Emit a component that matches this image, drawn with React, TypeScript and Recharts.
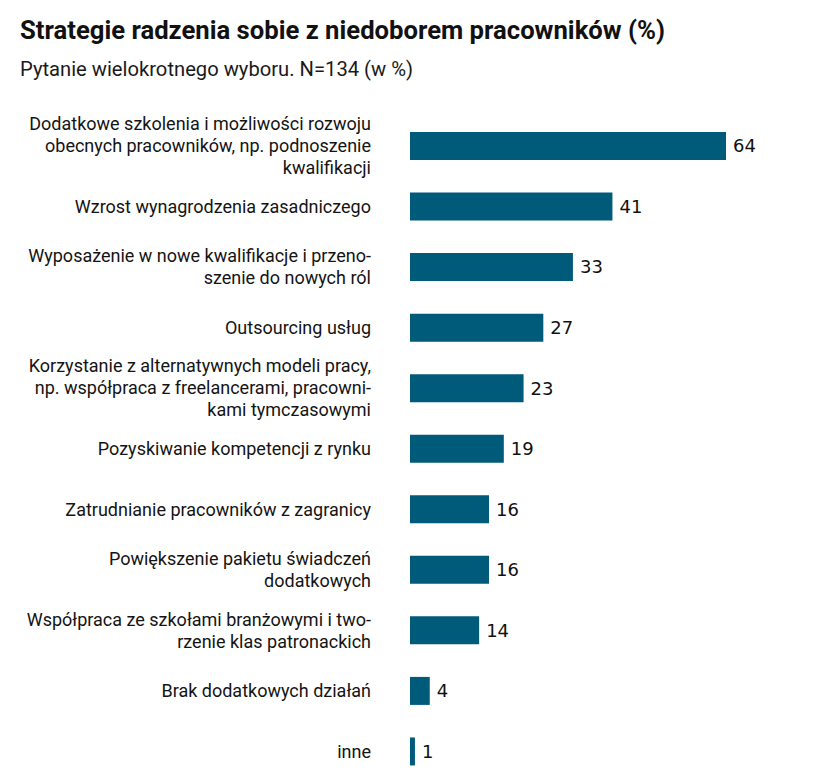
import React from "react";
import { Bar, BarChart, LabelList, XAxis, YAxis } from "recharts";

const categories = [
  "Dodatkowe szkolenia i możliwości rozwoju\nobecnych pracowników, np. podnoszenie\nkwalifikacji",
  "Wzrost wynagrodzenia zasadniczego",
  "Wyposażenie w nowe kwalifikacje i przeno-\nszenie do nowych ról",
  "Outsourcing usług",
  "Korzystanie z alternatywnych modeli pracy,\nnp. współpraca z freelancerami, pracowni-\nkami tymczasowymi",
  "Pozyskiwanie kompetencji z rynku",
  "Zatrudnianie pracowników z zagranicy",
  "Powiększenie pakietu świadczeń\ndodatkowych",
  "Współpraca ze szkołami branżowymi i two-\nrzenie klas patronackich",
  "Brak dodatkowych działań",
  "inne",
];

const values = [64, 41, 33, 27, 23, 19, 16, 16, 14, 4, 1];

const title = "Strategie radzenia sobie z niedoborem pracowników (%)";
const subtitle = "Pytanie wielokrotnego wyboru. N=134 (w %)";

const data = categories.map((name, i) => ({ name, value: values[i] }));

const BAR_COLOR = "#005a7a";
const LABEL_FONT = "Roboto, 'Noto Sans', sans-serif";

function CategoryTick(props: any) {
  const { x, y, payload } = props;
  const lines: string[] = String(payload.value).split("\n");
  const lh = 22;
  const start = -((lines.length - 1) / 2) * lh;
  return (
    <text
      x={x - 31}
      y={y}
      textAnchor="end"
      fill="#141414"
      fontSize={18}
      fontFamily={LABEL_FONT}
    >
      {lines.map((line, i) => (
        <tspan key={i} x={x - 31} dy={i === 0 ? start + 6 : lh}>
          {line}
        </tspan>
      ))}
    </text>
  );
}

export default function App() {
  return (
    <div
      style={{
        position: "absolute",
        top: 0,
        left: 0,
        width: 821,
        height: 774,
        overflow: "hidden",
        background: "#fff",
      }}
    >
      <svg
        width={821}
        height={100}
        style={{ position: "absolute", top: 0, left: 0 }}
      >
        <text
          x={20}
          y={39}
          fontFamily={LABEL_FONT}
          fontWeight={700}
          fontSize={25}
          fill="#111"
          textLength={645}
          lengthAdjust="spacingAndGlyphs"
        >
          {title}
        </text>
        <text
          x={20}
          y={76}
          fontFamily={LABEL_FONT}
          fontWeight={400}
          fontSize={19.5}
          fill="#1a1a1a"
          textLength={393}
          lengthAdjust="spacingAndGlyphs"
        >
          {subtitle}
        </text>
      </svg>
      <div style={{ position: "absolute", top: 0, left: 0 }}>
        <BarChart
          width={821}
          height={782}
          data={data}
          layout="vertical"
          margin={{ top: 116, right: 16, bottom: 0, left: 0 }}
          barSize={28}
        >
          <XAxis type="number" domain={[0, 80]} hide />
          <YAxis
            type="category"
            dataKey="name"
            width={410}
            axisLine={false}
            tickLine={false}
            tick={<CategoryTick />}
            interval={0}
          />
          <Bar dataKey="value" fill={BAR_COLOR} isAnimationActive={false}>
            <LabelList
              dataKey="value"
              position="right"
              offset={7}
              fill="#111"
              fontSize={18}
              fontFamily="'DejaVu Sans', sans-serif"
            />
          </Bar>
        </BarChart>
      </div>
    </div>
  );
}
